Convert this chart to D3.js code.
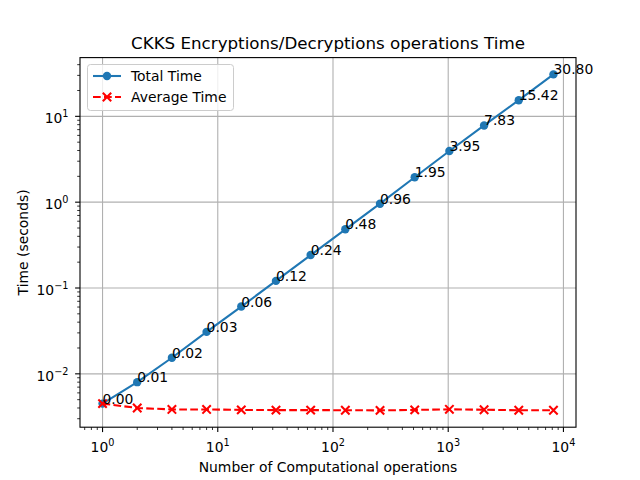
<!DOCTYPE html>
<html><head><meta charset="utf-8">
<script src="https://cdn.jsdelivr.net/npm/d3@7"></script>
<style>body{margin:0;background:#fff}svg{display:block}text{font-family:"DejaVu Sans",sans-serif;fill:#000}</style>
</head><body>
<script>
const ops = [1, 2, 4, 8, 16, 32, 64, 128, 256, 512, 1024, 2048, 4096, 8192];
const totalTime = [0.0045, 0.0080, 0.0154, 0.0308, 0.0608, 0.121, 0.242, 0.483, 0.96, 1.95, 3.95, 7.83, 15.42, 30.80];
const avgTime = [0.0045, 0.0040, 0.00385, 0.00385, 0.0038, 0.00378, 0.00378, 0.00377, 0.00375, 0.0038, 0.00386, 0.00382, 0.00376, 0.00376];
const xTickExps = [0, 1, 2, 3, 4];
const yTickExps = [-2, -1, 0, 1];
const titleText = "CKKS Encryptions/Decryptions operations Time";
const xLabel = "Number of Computational operations";
const yLabel = "Time (seconds)";
const seriesNames = ["Total Time", "Average Time"];

const W = 640, H = 480;
const L = 80, R = 576, T = 57.6, B = 427.2;
const svg = d3.select("body").append("svg").attr("width", W).attr("height", H);
svg.append("rect").attr("width", W).attr("height", H).attr("fill", "#fff");

function logDomain(vals) {
  const lo = Math.log10(d3.min(vals)), hi = Math.log10(d3.max(vals));
  const m = (hi - lo) * 0.05;
  return [Math.pow(10, lo - m), Math.pow(10, hi + m)];
}
const x = d3.scaleLog().domain(logDomain(ops)).range([L, R]);
const y = d3.scaleLog().domain(logDomain(totalTime.concat(avgTime))).range([B, T]);

// grid
const g = svg.append("g");
xTickExps.forEach(e => {
  const px = x(Math.pow(10, e));
  g.append("line").attr("x1", px).attr("x2", px).attr("y1", T).attr("y2", B).attr("stroke", "#b0b0b0").attr("stroke-width", 1.1);
});
yTickExps.forEach(e => {
  const py = y(Math.pow(10, e));
  g.append("line").attr("x1", L).attr("x2", R).attr("y1", py).attr("y2", py).attr("stroke", "#b0b0b0").attr("stroke-width", 1.1);
});

// minor ticks
const [xd0, xd1] = x.domain(), [yd0, yd1] = y.domain();
for (let e = -1; e <= 5; e++) for (let k = 2; k <= 9; k++) {
  const v = k * Math.pow(10, e);
  if (v > xd0 && v < xd1) { const px = x(v); svg.append("line").attr("x1", px).attr("x2", px).attr("y1", B).attr("y2", B + 2.8).attr("stroke", "#000").attr("stroke-width", 0.8); }
}
for (let e = -4; e <= 2; e++) for (let k = 2; k <= 9; k++) {
  const v = k * Math.pow(10, e);
  if (v > yd0 && v < yd1) { const py = y(v); svg.append("line").attr("x1", L - 2.8).attr("x2", L).attr("y1", py).attr("y2", py).attr("stroke", "#000").attr("stroke-width", 0.8); }
}
// major ticks + labels
xTickExps.forEach(e => {
  const px = x(Math.pow(10, e));
  svg.append("line").attr("x1", px).attr("x2", px).attr("y1", B).attr("y2", B + 4.9).attr("stroke", "#000").attr("stroke-width", 1.1);
  const t = svg.append("text").attr("x", px).attr("y", B + 24.5).attr("text-anchor", "middle").attr("font-size", 13.9);
  t.append("tspan").text("10");
  t.append("tspan").attr("dy", -6).attr("font-size", 9.7).text(String(e).replace("-", "\u2212"));
});
yTickExps.forEach(e => {
  const py = y(Math.pow(10, e));
  svg.append("line").attr("x1", L - 4.9).attr("x2", L).attr("y1", py).attr("y2", py).attr("stroke", "#000").attr("stroke-width", 1.1);
  const t = svg.append("text").attr("x", L - 11.5).attr("y", py + 6.7).attr("text-anchor", "end").attr("font-size", 13.9);
  t.append("tspan").text("10");
  t.append("tspan").attr("dy", -6).attr("font-size", 9.7).text(String(e).replace("-", "\u2212"));
});

// lines
const line = d3.line().x(d => x(d[0])).y(d => y(d[1]));
const totData = ops.map((o, i) => [o, totalTime[i]]);
const avgData = ops.map((o, i) => [o, avgTime[i]]);
const blue = "#1f77b4", red = "#ff0000";
svg.append("path").datum(totData).attr("d", line).attr("fill", "none").attr("stroke", blue).attr("stroke-width", 2.08);
svg.selectAll(".tm").data(totData).enter().append("circle").attr("cx", d => x(d[0])).attr("cy", d => y(d[1])).attr("r", 4.2).attr("fill", blue);
svg.append("path").datum(avgData).attr("d", line).attr("fill", "none").attr("stroke", red).attr("stroke-width", 2.08).attr("stroke-dasharray", "7.7,3.3");
function xMark(sel, cx, cy, s) {
  sel.append("path").attr("d", `M${cx - s},${cy - s}L${cx + s},${cy + s}M${cx - s},${cy + s}L${cx + s},${cy - s}`).attr("stroke", red).attr("stroke-width", 2.08).attr("fill", "none");
}
avgData.forEach(d => xMark(svg, x(d[0]), y(d[1]), 4.2));

// annotations
totData.forEach(d => {
  svg.append("text").attr("x", x(d[0])).attr("y", y(d[1])).attr("font-size", 13.9).text(d[1].toFixed(2));
});

// spines
svg.append("rect").attr("x", L).attr("y", T).attr("width", R - L).attr("height", B - T).attr("fill", "none").attr("stroke", "#000").attr("stroke-width", 1.1);

// title & labels
svg.append("text").attr("x", (L + R) / 2).attr("y", T - 8.5).attr("text-anchor", "middle").attr("font-size", 16.7).text(titleText);
svg.append("text").attr("x", (L + R) / 2).attr("y", 472).attr("text-anchor", "middle").attr("font-size", 13.9).text(xLabel);
svg.append("text").attr("transform", `translate(28,${(T + B) / 2}) rotate(-90)`).attr("text-anchor", "middle").attr("font-size", 13.9).text(yLabel);

// legend
const lg = svg.append("g");
lg.append("rect").attr("x", 87.5).attr("y", 64.5).attr("width", 146).attr("height", 46).attr("rx", 3).attr("fill", "#fff").attr("fill-opacity", 0.8).attr("stroke", "#cccccc").attr("stroke-width", 1);
const ly = [76, 97];
lg.append("line").attr("x1", 93).attr("x2", 121).attr("y1", ly[0]).attr("y2", ly[0]).attr("stroke", blue).attr("stroke-width", 2.08);
lg.append("circle").attr("cx", 107).attr("cy", ly[0]).attr("r", 4.2).attr("fill", blue);
lg.append("line").attr("x1", 93).attr("x2", 121).attr("y1", ly[1]).attr("y2", ly[1]).attr("stroke", red).attr("stroke-width", 2.08).attr("stroke-dasharray", "7.7,3.3");
xMark(lg, 107, ly[1], 4.2);
seriesNames.forEach((n, i) => lg.append("text").attr("x", 131).attr("y", ly[i] + 5).attr("font-size", 13.9).text(n));
</script>
</body></html>
